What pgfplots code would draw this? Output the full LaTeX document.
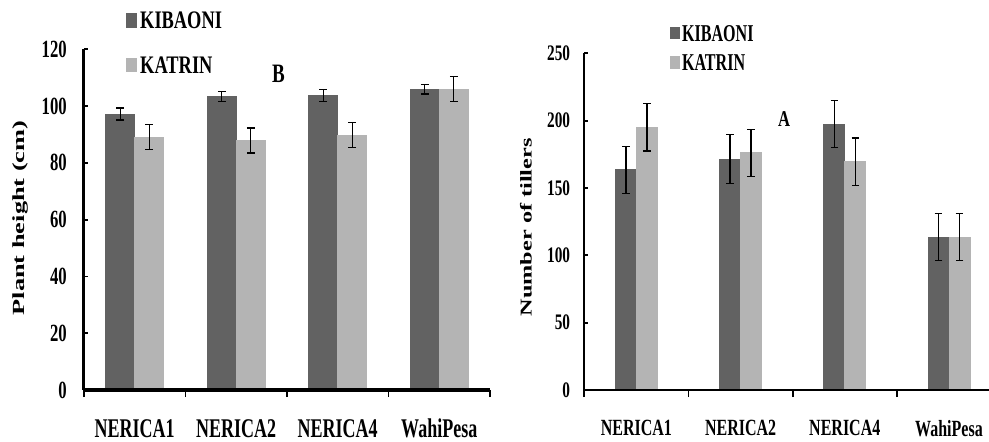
\documentclass[border=0pt]{standalone}
\usepackage{pgfplots}
\pgfplotsset{compat=1.18}
\usepackage{fontspec}
\setmainfont{Liberation Serif}
\usepackage{graphicx}
\definecolor{dk}{HTML}{626262}
\definecolor{lt}{HTML}{B4B4B4}
\newcommand{\vs}[2]{\scalebox{1}[#1]{#2}}
\begin{document}
\begin{tikzpicture}
\useasboundingbox (0,0) rectangle (989pt,442pt);
\pgfplotsset{common/.style={
  scale only axis, anchor=south west, axis on top,
  separate axis lines,
  axis x line=bottom, axis y line=left,
  axis line style={-, black},
  every outer y axis line/.append style={line width=2.2pt, black},
  xmin=-0.5, xmax=3.5, ymin=0,
  xtick={-0.5,0.5,1.5,2.5,3.5}, x tick label as interval,
  xtick style={/pgfplots/major tick length=7pt, line width=1.8pt, black},
  ytick style={/pgfplots/major tick length=3.5pt, line width=1.8pt, black},
  xtick align=outside, ytick align=inside,
  ybar=0pt,
  legend cell align=left,
  error bars/error mark=|,
  error bars/error bar style={draw=black, line width=1.3pt},
  error bars/error mark options={draw=black, line width=1.3pt, mark size=3.8pt},
}}
% ---------- Left panel (B) ----------
\begin{axis}[common,
  at={(84pt,52pt)}, width=406pt, height=340.7pt,
  ymax=120, ytick={0,20,...,120}, bar width=29pt,
  every outer x axis line/.append style={line width=3.6pt, black},
  every outer y axis line/.append style={line width=3pt, black},
  xticklabels={\vs{1.5}{NERICA1},\vs{1.5}{NERICA2},\vs{1.5}{NERICA4},\vs{1.5}{WahiPesa}},
  xticklabel style={font=\bfseries\fontsize{18}{18}\selectfont, anchor=center, yshift=-34pt},
  yticklabel={\vs{1.48}{\pgfmathprintnumber[assume math mode=true]{\tick}}},
  yticklabel style={font=\bfseries\fontsize{16.7}{17}\selectfont, anchor=east, inner sep=0pt, xshift=-17pt},
  ylabel={\scalebox{1.55}[1]{Plant height (cm)}},
  ylabel style={font=\bfseries\fontsize{17}{17}\selectfont, at={(axis description cs:-0.1564,0.505)}, anchor=center},
  legend image code/.code={\fill[#1] (0pt,-6pt) rectangle (9.3pt,7.3pt);},
  legend style={at={(axis description cs:0.1052,1.110)}, anchor=north west, draw=none, fill=none,
    inner sep=0pt, row sep=26.7pt, column sep=4pt, nodes={inner sep=0pt},
    font=\bfseries\fontsize{18.4}{18.4}\selectfont},
]
\addplot[fill=dk, draw=dk, line width=0pt, error bars/.cd, y dir=both, y explicit] coordinates {
  (0,97.2) +- (0,2.1) (1,103.4) +- (0,1.8) (2,103.7) +- (0,2.2) (3,106.0) +- (0,1.7)};
\addlegendentry{\vs{1.37}{KIBAONI}}
\addplot[fill=lt, draw=lt, line width=0pt, error bars/.cd, y dir=both, y explicit] coordinates {
  (0,89.1) +- (0,4.4) (1,87.9) +- (0,4.4) (2,89.7) +- (0,4.4) (3,106.0) +- (0,4.3)};
\addlegendentry{\vs{1.37}{KATRIN}}
\end{axis}
% ---------- Right panel (A) ----------
\begin{axis}[common,
  at={(584.3pt,52pt)}, width=416.8pt, height=336.7pt,
  ymax=250, ytick={0,50,...,250}, bar width=21pt,
  every outer x axis line/.append style={line width=2.5pt, black},
  xticklabels={\vs{1.45}{NERICA1},\vs{1.45}{NERICA2},\vs{1.45}{NERICA4},\vs{1.45}{WahiPesa}},
  xticklabel style={font=\bfseries\fontsize{16}{16}\selectfont, anchor=center, yshift=-34pt},
  yticklabel={\vs{1.45}{\pgfmathprintnumber[assume math mode=true]{\tick}}},
  yticklabel style={font=\bfseries\fontsize{15.3}{16}\selectfont, anchor=east, inner sep=0pt, xshift=-14pt},
  ylabel={\scalebox{1.47}[1]{Number of tillers}},
  ylabel style={font=\bfseries\fontsize{16.5}{16.5}\selectfont, at={(axis description cs:-0.140,0.483)}, anchor=center},
  legend image code/.code={\fill[#1] (0pt,-5pt) rectangle (8.7pt,6.6pt);},
  legend style={at={(axis description cs:0.2073,1.084)}, anchor=north west, draw=none, fill=none,
    inner sep=0pt, row sep=11.6pt, column sep=2.4pt, nodes={inner sep=0pt},
    font=\bfseries\fontsize{16.1}{16.1}\selectfont},
]
\addplot[fill=dk, draw=dk, line width=0pt, error bars/.cd, y dir=both, y explicit] coordinates {
  (0,163.5) +- (0,17.5) (1,171.5) +- (0,18) (2,197.5) +- (0,17.5) (3,113.5) +- (0,17.5)};
\addlegendentry{\vs{1.5}{KIBAONI}}
\addplot[fill=lt, draw=lt, line width=0pt, error bars/.cd, y dir=both, y explicit] coordinates {
  (0,195) +- (0,17.5) (1,176) +- (0,17.5) (2,169.5) +- (0,17.5) (3,113.5) +- (0,17.5)};
\addlegendentry{\vs{1.5}{KATRIN}}
\end{axis}
\node[font=\bfseries\fontsize{19}{19}\selectfont] at (278.5pt,368.5pt) {\vs{1.4}{B}};
\node[font=\bfseries\fontsize{16.6}{16.6}\selectfont] at (784pt,322.5pt) {\vs{1.36}{A}};
\end{tikzpicture}
\end{document}
